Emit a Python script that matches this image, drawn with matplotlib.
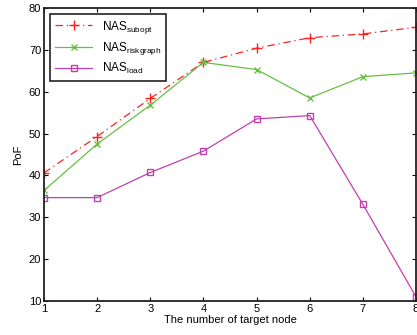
import matplotlib
matplotlib.use("Agg")
import matplotlib.pyplot as plt

plt.rcParams['font.family'] = ['Liberation Sans', 'DejaVu Sans']
plt.rcParams['mathtext.default'] = 'regular'

nodes = [1, 2, 3, 4, 5, 6, 7, 8]
subopt = [40.6, 49.3, 58.4, 67.0, 70.4, 72.9, 73.8, 75.4]
riskgraph = [36.4, 47.5, 56.8, 67.0, 65.3, 58.5, 63.6, 64.5]
load = [34.7, 34.7, 40.7, 45.8, 53.5, 54.3, 33.1, 11.0]

fig = plt.figure(figsize=(4.17, 3.35), dpi=100)
ax = fig.add_axes([44/417, 34/335, 372/417, 293/335])

ax.plot(nodes, subopt, color='#ff2020', marker='+', markersize=6.5,
        linewidth=0.9, linestyle=(0, (6, 3, 1, 3)), label='NAS$_{subopt}$')
ax.plot(nodes, riskgraph, '-', color='#66c040', marker='x', markersize=4.5,
        linewidth=0.9, label='NAS$_{riskgraph}$')
ax.plot(nodes, load, '-', color='#c040b0', marker='s', markersize=5,
        markerfacecolor='none', linewidth=0.9, label='NAS$_{load}$')

ax.set_xlim(1, 8)
ax.set_ylim(10, 80)
ax.set_xticks(nodes)
ax.set_yticks(range(10, 81, 10))
ax.tick_params(direction='in', top=True, right=True, labelsize=8, length=3,
               width=0.8, pad=2)
for s in ax.spines.values():
    s.set_linewidth(1.3)
    s.set_color('#222222')

ax.set_xlabel('The number of target node', fontsize=8, labelpad=1)
ax.set_ylabel('PoF', fontsize=8, labelpad=4)

leg = ax.legend(loc='upper left', fontsize=8.5, fancybox=False, framealpha=1,
                edgecolor='#222222', handlelength=3.2, borderaxespad=0.5,
                labelspacing=0.35, borderpad=0.4)
leg.get_frame().set_linewidth(1.2)

fig.savefig('out.png', dpi=100)
